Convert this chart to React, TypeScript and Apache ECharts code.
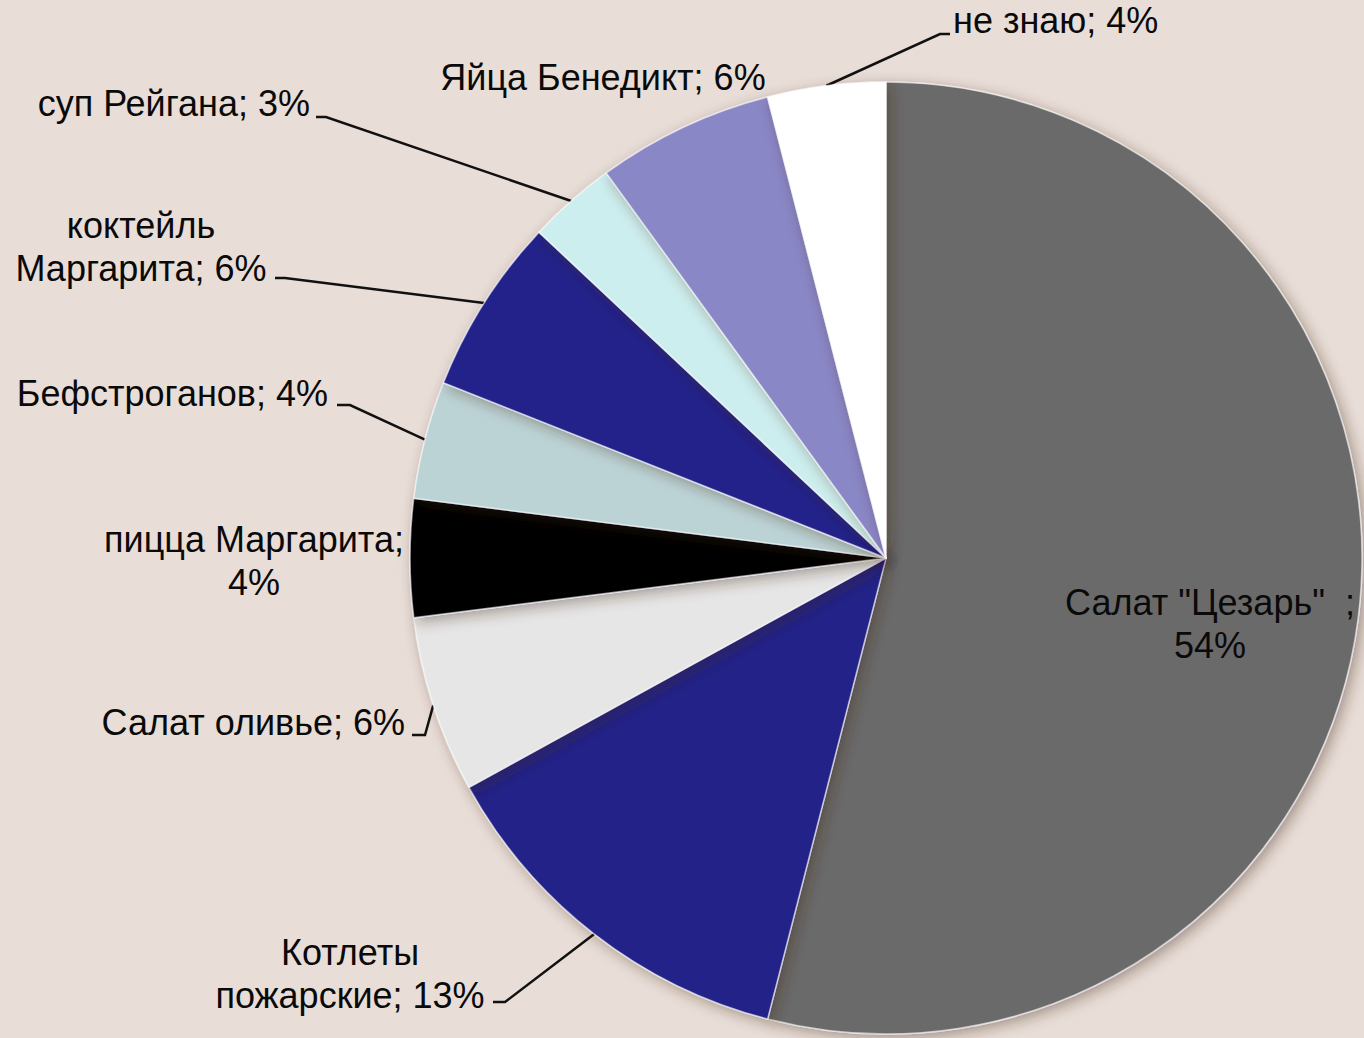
import React, { useEffect, useRef } from "react";
import * as echarts from "echarts";

const categories = [
  'Салат "Цезарь" ',
  "Котлеты\nпожарские",
  "Салат оливье",
  "пицца Маргарита",
  "Бефстроганов",
  "коктейль\nМаргарита",
  "суп Рейгана",
  "Яйца Бенедикт",
  "не знаю",
];
const values = [54, 13, 6, 4, 4, 6, 3, 6, 4];
const labelTexts = [
  'Салат "Цезарь"  ;\n54%',
  "Котлеты\nпожарские; 13%",
  "Салат оливье; 6%",
  "пицца Маргарита;\n4%",
  "Бефстроганов; 4%",
  "коктейль\nМаргарита; 6%",
  "суп Рейгана; 3%",
  "Яйца Бенедикт; 6%",
  "не знаю; 4%",
];
const colors = [
  "#6b6b6b",
  "#222288",
  "#e6e6e6",
  "#060606",
  "#bcd3d6",
  "#20208a",
  "#cdeeee",
  "#8a87c6",
  "#ffffff",
];

// label anchor: [x, y, align, elbowX, endX, lineY] (lineY null = no leader)
const labelPlaces: [number, number, string, number | null, number | null, number | null][] = [
  [1210, 624, "center", null, null, null],
  [350, 974, "center", 505, 493, 1002],
  [405, 722, "right", 425, 412, 735],
  [254, 561, "center", null, null, null],
  [328, 393, "right", 350, 337, 405],
  [141, 247, "center", 285, 275, 278],
  [310, 103, "right", 326, 316, 117],
  [603, 77, "center", null, null, null],
  [953, 20, "left", 940, 950, 34],
];

export default function App() {
  const ref = useRef<HTMLDivElement>(null);
  useEffect(() => {
    if (!ref.current) return;
    const chart = echarts.init(ref.current, null, { renderer: "svg" });
    const cx = 886;
    const cy = 558;
    const r = 476;
    const total = values.reduce((a, b) => a + b, 0);
    let cum = 0;
    const mids = values.map((v) => {
      const m = cum + v / 2;
      cum += v;
      return (m / total) * Math.PI * 2;
    });
    chart.setOption({
      animation: false,
      backgroundColor: "#e8ddd7",
      series: [
        {
          type: "pie",
          center: [cx, cy],
          radius: [0, r],
          startAngle: 90,
          clockwise: true,
          avoidLabelOverlap: false,
          data: categories.map((name, i) => ({
            name,
            value: values[i],
            itemStyle: { color: colors[i] },
            label: {
              formatter: labelTexts[i],
            },
            labelLine: { show: labelPlaces[i][5] !== null },
          })),
          itemStyle: {
            borderColor: "rgba(255,255,255,0.6)",
            borderWidth: 1.5,
            shadowBlur: 14,
            shadowOffsetX: 4,
            shadowOffsetY: 4,
            shadowColor: "rgba(60,40,30,0.4)",
          },
          label: {
            show: true,
            position: "outside",
            color: "#0a0a0a",
            fontFamily: "Liberation Sans, Arial, sans-serif",
            fontSize: 36,
            lineHeight: 43,
          },
          labelLine: {
            show: true,
            lineStyle: { color: "#111", width: 2.5 },
          },
          labelLayout: (params: any) => {
            const i = params.dataIndex;
            const p = labelPlaces[i];
            const a = mids[i];
            const ex = cx + r * Math.sin(a);
            const ey = cy - r * Math.cos(a);
            const res: any = {
              x: p[0],
              y: p[1],
              align: p[2],
              verticalAlign: "middle",
            };
            if (p[5] !== null) {
              res.labelLinePoints = [
                [ex, ey],
                [p[3], p[5]],
                [p[4], p[5]],
              ];
            }
            return res;
          },
          emphasis: { disabled: true },
        },
      ],
    });
    return () => chart.dispose();
  }, []);
  return (
    <div
      ref={ref}
      style={{ position: "fixed", left: 0, top: 0, width: 1364, height: 1038 }}
    />
  );
}
